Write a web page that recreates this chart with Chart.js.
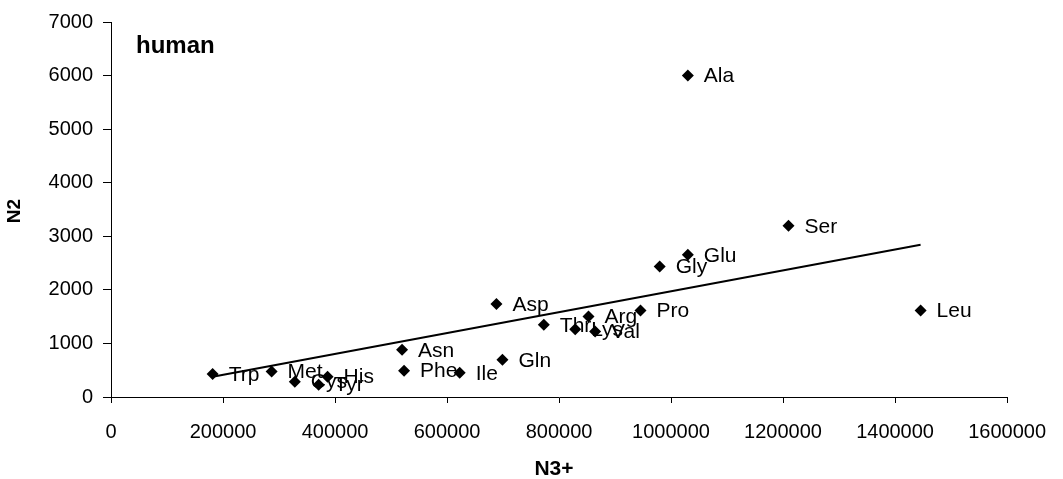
<!DOCTYPE html>
<html>
<head>
<meta charset="utf-8">
<script src="https://cdn.jsdelivr.net/npm/chart.js@4.4.1/dist/chart.umd.min.js"></script>
<style>
    html, body { margin: 0; padding: 0; background: #fff; }
    #wrap { width: 1063px; height: 479px; position: relative; }
</style>
</head>
<body>
<div id="wrap"><canvas id="scatter"></canvas></div>
<script>
// amino acids: N3+ (x) vs N2 (y)
const acids = ["Trp", "Met", "Cys", "Tyr", "His", "Asn", "Phe", "Ile", "Asp", "Gln",
               "Thr", "Lys", "Arg", "Val", "Pro", "Gly", "Ala", "Glu", "Ser", "Leu"];
const n3 = [181500, 286800, 328200, 370700, 386700, 519700, 523300, 622600, 688200, 698900,
            772800, 828900, 852600, 864400, 945500, 979700, 1030000, 1030000, 1209700, 1445600];
const n2 = [429, 478, 286, 230, 380, 882, 491, 453, 1735, 696,
            1349, 1263, 1504, 1224, 1616, 2437, 6000, 2655, 3196, 1616];

// linear trendline end points
const trendX = [181500, 1445600];
const trendY = [380, 2842];

const xTicks = [0, 200000, 400000, 600000, 800000, 1000000, 1200000, 1400000, 1600000];
const yTicks = [0, 1000, 2000, 3000, 4000, 5000, 6000, 7000];

const FONT = "'Liberation Sans', Arial, sans-serif";

// names next to each diamond, axis titles and the "human" note
const annotate = {
    id: "annotate",
    afterDatasetsDraw(chart) {
        const ctx = chart.ctx;
        const meta = chart.getDatasetMeta(0);
        ctx.save();
        ctx.fillStyle = "#000";
        ctx.font = "21px " + FONT;
        ctx.textBaseline = "middle";
        ctx.textAlign = "left";
        meta.data.forEach((pt, i) => {
            ctx.fillText(acids[i], pt.x + 16, pt.y + 1);
        });
        ctx.font = "bold 24px " + FONT;
        ctx.fillText("human", 136, 46);

        ctx.font = "bold 21px " + FONT;
        ctx.textAlign = "center";
        ctx.fillText("N3+", 554, 469);

        ctx.translate(15, 211);
        ctx.rotate(-Math.PI / 2);
        ctx.font = "bold 19px " + FONT;
        ctx.fillText("N2", 0, 0);
        ctx.restore();
    },
};

document.addEventListener("DOMContentLoaded", () => {
    const ctx = document.getElementById("scatter");
    new Chart(ctx, {
        type: "scatter",
        data: {
            datasets: [
                {
                    label: "N2",
                    data: n3.map((x, i) => ({ x: x, y: n2[i] })),
                    pointStyle: "rectRot",
                    pointRadius: 6,
                    backgroundColor: "#000",
                    borderColor: "#000",
                    borderWidth: 0,
                },
                {
                    label: "trend",
                    data: trendX.map((x, i) => ({ x: x, y: trendY[i] })),
                    showLine: true,
                    borderColor: "#000",
                    borderWidth: 2,
                    pointRadius: 0,
                },
            ],
        },
        options: {
            responsive: true,
            maintainAspectRatio: false,
            animation: false,
            layout: { padding: { left: 0, right: 50, top: 22, bottom: 0 } },
            plugins: {
                legend: { display: false },
                tooltip: { enabled: false },
            },
            scales: {
                x: {
                    type: "linear",
                    min: 0,
                    max: 1600000,
                    afterBuildTicks: (s) => { s.ticks = xTicks.map((v) => ({ value: v })); },
                    afterFit: (s) => { s.height = 82; },
                    ticks: {
                        color: "#000",
                        font: { family: FONT, size: 20 },
                        padding: 17,
                        maxRotation: 0,
                        callback: (v) => String(v),
                    },
                    grid: {
                        drawOnChartArea: false,
                        drawTicks: true,
                        tickLength: 6,
                        color: "#000",
                    },
                    border: { display: true, color: "#000", width: 1 },
                },
                y: {
                    type: "linear",
                    min: 0,
                    max: 7000,
                    afterBuildTicks: (s) => { s.ticks = yTicks.map((v) => ({ value: v })); },
                    afterFit: (s) => { s.width = 111; },
                    ticks: {
                        color: "#000",
                        font: { family: FONT, size: 20 },
                        padding: 10,
                        callback: (v) => String(v),
                    },
                    grid: {
                        drawOnChartArea: false,
                        drawTicks: true,
                        tickLength: 8,
                        color: "#000",
                    },
                    border: { display: true, color: "#000", width: 1 },
                },
            },
        },
        plugins: [annotate],
    });
});
</script>
</body>
</html>
